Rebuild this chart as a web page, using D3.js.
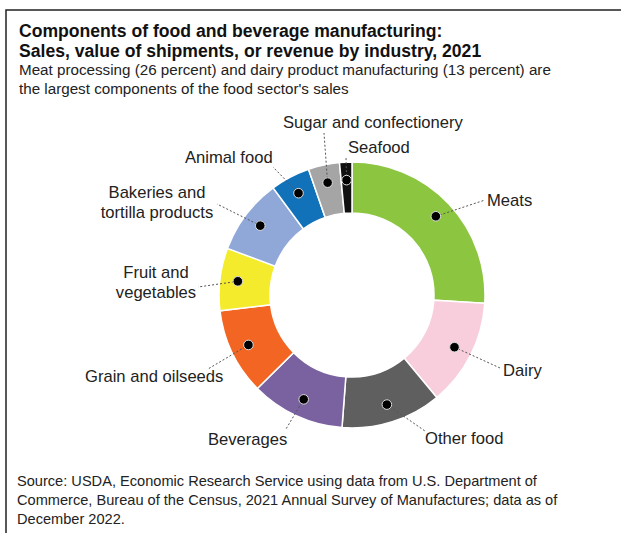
<!DOCTYPE html>
<html>
<head>
<meta charset="utf-8">
<script src="https://cdn.jsdelivr.net/npm/d3@7"></script>
<style>
    body { margin: 0; background: #fff; }
    svg { display: block; font-family: "Liberation Sans", Arial, sans-serif; }
</style>
</head>
<body>
<svg id="donut-chart"></svg>
<script>
// Categories and shares (percent of food and beverage manufacturing sales, 2021)
const categories = ['Meats', 'Dairy', 'Other food', 'Beverages', 'Grain and oilseeds',
    'Fruit and vegetables', 'Bakeries and tortilla products', 'Animal food',
    'Sugar and confectionery', 'Seafood'];
const shares = [26, 13, 12.2, 11.4, 10.5, 7.6, 9.2, 4.8, 3.8, 1.5];
const colors = ['#8cc540', '#f8cedd', '#5e5f5e', '#7a62a0', '#f26522',
    '#f5eb2d', '#8fa8d8', '#1172ba', '#a5a5a5', '#111111'];

const titleLines = ['Components of food and beverage manufacturing:',
    'Sales, value of shipments, or revenue by industry, 2021'];
const subtitleLines = ['Meat processing (26 percent) and dairy product manufacturing (13 percent) are',
    'the largest components of the food sector\'s sales'];
const sourceLines = ['Source: USDA, Economic Research Service using data from U.S. Department of',
    'Commerce, Bureau of the Census, 2021 Annual Survey of Manufactures; data as of',
    'December 2022.'];

// Label placement (text lines, anchor point, end of leader line)
const labelLayout = [
    { lines: ['Meats'], x: 487, y: 206, anchor: 'start', lx: 485, ly: 200 },
    { lines: ['Dairy'], x: 503, y: 376, anchor: 'start', lx: 500, ly: 368 },
    { lines: ['Other food'], x: 425, y: 444, anchor: 'start', lx: 425, ly: 431 },
    { lines: ['Beverages'], x: 208, y: 445, anchor: 'start', lx: 286, ly: 429 },
    { lines: ['Grain and oilseeds'], x: 85, y: 382, anchor: 'start', lx: 208, ly: 369 },
    { lines: ['Fruit and', 'vegetables'], x: 156, y: 278, anchor: 'middle', lx: 198, ly: 287 },
    { lines: ['Bakeries and', 'tortilla products'], x: 157, y: 198, anchor: 'middle', lx: 217, ly: 204 },
    { lines: ['Animal food'], x: 185, y: 163, anchor: 'start', lx: 273, ly: 167 },
    { lines: ['Sugar and confectionery'], x: 283, y: 128, anchor: 'start', lx: 324, ly: 133 },
    { lines: ['Seafood'], x: 348, y: 153, anchor: 'start', lx: 346, ly: 157 }
];

function drawChart() {
    const width = 621;
    const height = 533;

    const svg = d3.select('#donut-chart')
        .attr('width', width)
        .attr('height', height);

    // Cadre
    svg.append('path')
        .attr('d', `M6,${height} V10 H${width}`)
        .attr('fill', 'none')
        .attr('stroke', '#222')
        .attr('stroke-width', 1.5);

    // Titre et sous-titre
    svg.append('text')
        .attr('font-weight', 'bold')
        .attr('font-size', 17.6)
        .attr('fill', '#111')
        .selectAll('tspan')
        .data(titleLines)
        .enter()
        .append('tspan')
        .attr('x', 19)
        .attr('y', (d, i) => 37 + i * 19.5)
        .text(d => d);

    svg.append('text')
        .attr('font-size', 15.2)
        .attr('fill', '#222')
        .selectAll('tspan')
        .data(subtitleLines)
        .enter()
        .append('tspan')
        .attr('x', 19)
        .attr('y', (d, i) => 75 + i * 18.5)
        .text(d => d);

    // Donut
    const cx = 352, cy = 295;
    const outerRadius = 133, innerRadius = 82;

    const pie = d3.pie().sort(null).value(d => d.value);
    const arcs = pie(categories.map((c, i) => ({ name: c, value: shares[i], color: colors[i] })));

    const arc = d3.arc().innerRadius(innerRadius).outerRadius(outerRadius);
    const dotArc = d3.arc().innerRadius(115).outerRadius(115);

    const g = svg.append('g').attr('transform', `translate(${cx},${cy})`);

    g.selectAll('path.slice')
        .data(arcs)
        .enter()
        .append('path')
        .attr('class', 'slice')
        .attr('d', arc)
        .attr('fill', d => d.data.color)
        .attr('stroke', '#fff')
        .attr('stroke-width', 1.5);

    // Lignes de rappel
    g.selectAll('line.leader')
        .data(arcs)
        .enter()
        .append('line')
        .attr('class', 'leader')
        .attr('x1', d => dotArc.centroid(d)[0])
        .attr('y1', d => dotArc.centroid(d)[1])
        .attr('x2', (d, i) => labelLayout[i].lx - cx)
        .attr('y2', (d, i) => labelLayout[i].ly - cy)
        .attr('stroke', '#555')
        .attr('stroke-width', 1)
        .attr('stroke-dasharray', '2,2');

    // Points
    g.selectAll('circle.dot')
        .data(arcs)
        .enter()
        .append('circle')
        .attr('class', 'dot')
        .attr('cx', d => dotArc.centroid(d)[0])
        .attr('cy', d => dotArc.centroid(d)[1])
        .attr('r', 4.8)
        .attr('fill', '#000')
        .attr('stroke', '#ddd')
        .attr('stroke-width', 1);

    // Étiquettes
    const labels = svg.selectAll('text.label')
        .data(labelLayout)
        .enter()
        .append('text')
        .attr('class', 'label')
        .attr('font-size', 16.6)
        .attr('fill', '#222')
        .attr('text-anchor', d => d.anchor);

    labels.selectAll('tspan')
        .data(d => d.lines.map(l => ({ text: l, x: d.x, y: d.y })))
        .enter()
        .append('tspan')
        .attr('x', d => d.x)
        .attr('y', (d, i) => d.y + i * 20)
        .text(d => d.text);

    // Source
    svg.append('text')
        .attr('font-size', 14.6)
        .attr('fill', '#222')
        .selectAll('tspan')
        .data(sourceLines)
        .enter()
        .append('tspan')
        .attr('x', 17)
        .attr('y', (d, i) => 486 + i * 19)
        .text(d => d);
}

drawChart();
</script>
</body>
</html>
